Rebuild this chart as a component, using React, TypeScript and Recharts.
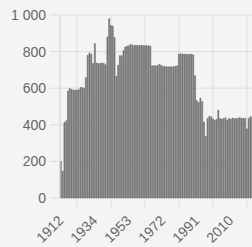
import { BarChart, Bar, XAxis, YAxis, CartesianGrid } from "recharts";

// years on the category axis (1914–1916 are absent from the source series)
const years: number[] = [
  1912, 1913,
  1917, 1918, 1919, 1920, 1921, 1922, 1923, 1924, 1925, 1926, 1927, 1928, 1929,
  1930, 1931, 1932, 1933, 1934, 1935, 1936, 1937, 1938, 1939,
  1940, 1941, 1942, 1943, 1944, 1945, 1946, 1947, 1948, 1949,
  1950, 1951, 1952, 1953, 1954, 1955, 1956, 1957, 1958, 1959,
  1960, 1961, 1962, 1963, 1964, 1965, 1966, 1967, 1968, 1969,
  1970, 1971, 1972, 1973, 1974, 1975, 1976, 1977, 1978, 1979,
  1980, 1981, 1982, 1983, 1984, 1985, 1986, 1987, 1988, 1989,
  1990, 1991, 1992, 1993, 1994, 1995, 1996, 1997, 1998, 1999,
  2000, 2001, 2002, 2003, 2004, 2005, 2006, 2007, 2008, 2009,
  2010, 2011, 2012, 2013, 2014, 2015, 2016, 2017, 2018, 2019,
  2020, 2021, 2022, 2023,
];

const values: number[] = [
  200, 147,
  413, 422, 585, 598, 593, 590, 590, 590, 592, 604, 604,
  600, 658, 780, 793, 786, 735, 844, 738, 735, 735,
  738, 735, 728, 880, 980, 942, 940, 877, 666, 726,
  778, 778, 805, 825, 830, 832, 840, 835, 834, 835,
  833, 834, 835, 833, 832, 833, 832, 830, 722, 723,
  722, 724, 731, 726, 720, 718, 718, 716, 718, 716,
  718, 720, 722, 786, 788, 787, 786, 786, 784, 786,
  785, 783, 668, 533, 522, 546, 527, 416, 338, 435,
  446, 444, 432, 425, 430, 480, 435, 431, 435, 438,
  426, 435, 431, 437, 434, 435, 434, 440, 435, 435,
  436, 378, 436, 444, 442, 440,
];

// labelled years, and the years where the grid lines / tick marks fall
const labelYears = [1912, 1934, 1953, 1972, 1991, 2010];
const gridYears = [1924, 1943, 1962, 1981, 2000, 2019];
const yTicks = [0, 200, 400, 600, 800, 1000];

const data = years.map((year, i) => ({ year, value: values[i] }));

const FONT = "'Liberation Sans', Arial, sans-serif";

function fmtThousands(v: number): string {
  return String(v).replace(/\B(?=(\d{3})+(?!\d))/g, " ");
}

// rotated label, right end centred on the tick
const YearTick = ({ x, y, payload }: { x?: number; y?: number; payload?: { value: number } }) => (
  <g transform={`translate(${x},${y}) rotate(-45)`}>
    <text textAnchor="end" dy="0.35em" fill="#666" fontSize={14} fontFamily={FONT}>
      {payload?.value}
    </text>
  </g>
);

// grid axis only draws tick marks, no text
const NoLabel = () => <g />;

export default function App() {
  return (
    <div
      style={{
        position: "fixed",
        left: 0,
        top: 0,
        width: 252,
        height: 247,
        overflow: "hidden",
        background: "#f4f4f4",
      }}
    >
      <BarChart
        width={270}
        height={247}
        data={data}
        margin={{ top: 15, right: 15, left: 0, bottom: 0 }}
        barCategoryGap="20%"
      >
        <CartesianGrid xAxisId="grid" stroke="#dcdcdc" strokeWidth={1} />
        <XAxis
          xAxisId="grid"
          dataKey="year"
          ticks={gridYears}
          interval={0}
          tick={<NoLabel />}
          axisLine={false}
          tickLine={{ stroke: "#dcdcdc" }}
          tickSize={10}
          height={1}
        />
        <XAxis
          xAxisId="labels"
          dataKey="year"
          ticks={labelYears}
          interval={0}
          axisLine={false}
          tickLine={false}
          tickSize={0}
          tickMargin={19}
          height={48}
          tick={<YearTick />}
        />
        <YAxis
          domain={[0, 1000]}
          ticks={yTicks}
          tickFormatter={fmtThousands}
          width={60}
          tickSize={10}
          tickMargin={4}
          axisLine={{ stroke: "#dcdcdc" }}
          tickLine={{ stroke: "#dcdcdc" }}
          tick={{ fontSize: 14, fill: "#666", fontFamily: FONT }}
        />
        <Bar
          xAxisId="labels"
          dataKey="value"
          fill="#8a8a8a"
          stroke="#555"
          strokeWidth={0.5}
          isAnimationActive={false}
        />
      </BarChart>
    </div>
  );
}
